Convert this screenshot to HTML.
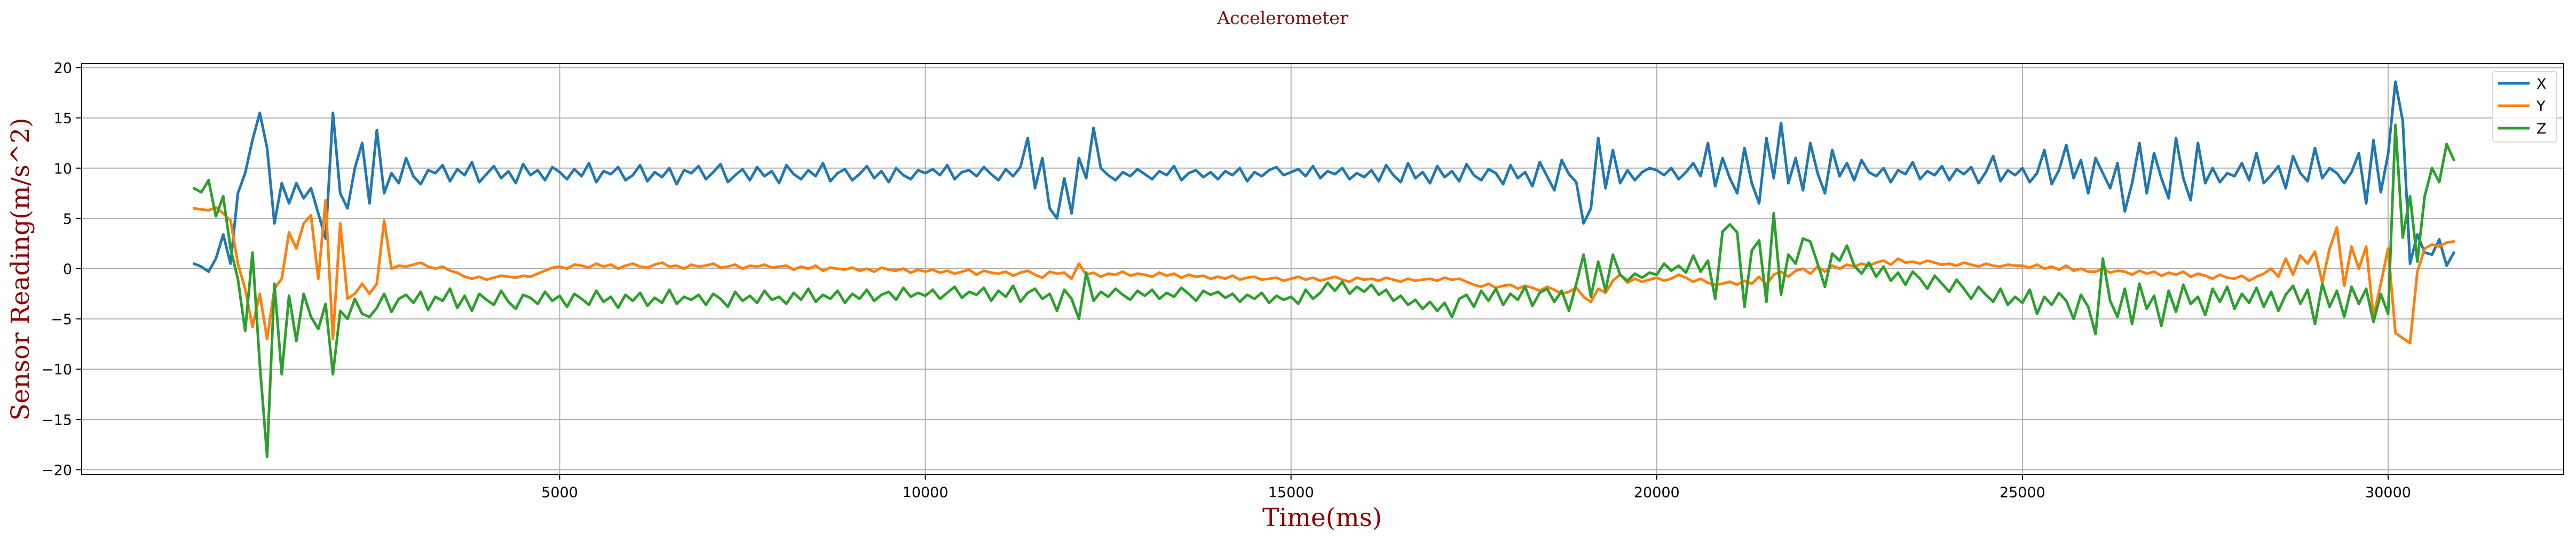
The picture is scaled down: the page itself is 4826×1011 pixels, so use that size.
<!DOCTYPE html>
<html><head><meta charset="utf-8"><style>
html,body{margin:0;padding:0;background:#fff;}
svg{display:block;}
</style></head><body>
<svg id="chart" width="4826" height="1011" viewBox="0 0 4826 1011" xmlns="http://www.w3.org/2000/svg">
<rect width="4826" height="1011" fill="#fff"/>
<text x="2403" y="45" text-anchor="middle" font-family="DejaVu Serif, Liberation Serif, serif" font-size="33" fill="#8b0000">Accelerometer</text>
<g id="grid"></g>
<g id="series"></g>
<rect x="153" y="119" width="4650" height="769" fill="none" stroke="#000" stroke-width="2"/>
<g id="ticks"></g>
<text x="2477" y="985" text-anchor="middle" font-family="DejaVu Serif, Liberation Serif, serif" font-size="47" fill="#8b0000">Time(ms)</text>
<text transform="translate(54,504) rotate(-90)" text-anchor="middle" font-family="DejaVu Serif, Liberation Serif, serif" font-size="47" fill="#8b0000">Sensor Reading(m/s^2)</text>
<g id="legend"></g>
</svg>
<script>
const dt = 100;
const xTicks = [5000, 10000, 15000, 20000, 25000, 30000];
const yTicks = [-20, -15, -10, -5, 0, 5, 10, 15, 20];
const yTickLabels = ["\u221220", "\u221215", "\u221210", "\u22125", "0", "5", "10", "15", "20"];
const seriesNames = ["X", "Y", "Z"];
const seriesX = [
0.5,0.2,-0.3,1.0,3.4,0.5,7.5,9.5,12.8,15.5,
12,4.5,8.5,6.5,8.5,7,8,5.5,3,15.5,
7.5,6,10,12.5,6.5,13.8,7.5,9.5,8.5,11,
9.2,8.4,9.8,9.5,10.3,8.7,9.9,9.3,10.6,8.6,
9.4,10.2,9.0,9.7,8.5,10.4,9.3,9.8,8.8,10.1,
9.6,8.9,9.9,9.2,10.5,8.6,9.7,9.4,10.1,8.8,
9.3,10.3,8.7,9.6,9.1,10.0,8.4,9.8,9.5,10.2,
8.9,9.6,10.4,8.6,9.3,9.9,8.8,10.1,9.2,9.7,
8.5,10.3,9.4,8.9,9.8,9.2,10.5,8.7,9.5,9.9,
8.8,9.4,10.2,9.0,9.7,8.6,10.0,9.3,8.9,9.8,
9.5,9.9,9.3,10.3,8.9,9.6,9.8,9.2,10.1,9.4,
8.8,9.9,9.2,10.1,13,8,11,6,5,9,
5.5,11,9,14,10,9.3,8.8,9.6,9.2,9.9,
9.4,8.9,9.7,9.3,10.2,8.8,9.5,9.8,9.1,9.6,
8.9,9.7,9.3,10.0,8.7,9.6,9.2,9.8,10.1,9.3,
9.6,9.9,9.2,10.2,9.0,9.7,9.4,10.0,8.9,9.5,
9.1,9.8,8.7,10.3,9.3,8.6,10.5,9.0,9.6,8.5,
10.2,9.1,9.7,8.7,10.4,9.3,8.8,9.9,9.5,8.4,
10.3,9.0,9.6,8.2,10.6,9.2,7.8,10.8,9.4,8.6,
4.5,6,13,8,11.8,8.5,9.8,8.8,9.6,10.0,
9.8,9.3,10.0,8.9,9.6,10.5,9.2,12.5,8.2,11.0,
9.0,7.5,12.0,8.5,6.5,13.0,9.0,14.5,8.5,11.0,
7.8,12.5,9.5,7.5,11.8,9.2,10.5,8.8,10.8,9.6,
9.2,10.0,8.6,9.8,9.4,10.6,8.9,9.7,9.3,10.2,
8.8,9.9,9.4,10.1,8.5,9.6,11.2,8.7,9.8,9.3,
10.0,8.6,9.5,11.8,8.4,9.8,12.3,9.0,10.8,7.5,
11.0,9.5,8.0,10.5,5.7,8.5,12.5,7.5,11.5,9.0,
7.0,13.0,9.0,6.8,12.5,8.5,10.0,8.6,9.5,9.2,
10.5,8.8,11.5,8.5,9.3,10.2,8.0,11.2,9.5,8.7,
12,9,10,9.5,8.5,9.6,11.5,6.5,12.8,7.6,
11.4,18.6,14.7,0.5,3.4,1.6,1.4,2.9,0.3,1.6];
const seriesY = [
6.0,5.9,5.8,6.1,5.5,4.8,0.5,-2,-5.8,-2.5,
-7,-2,-1,3.6,2,4.5,5.3,-1,6.8,-7,
4.5,-3,-2.5,-1.5,-2.5,-1.5,4.8,0,0.3,0.2,
0.4,0.6,0.2,0,0.2,-0.2,-0.4,-0.8,-1.0,-0.8,
-1.1,-0.9,-0.7,-0.8,-0.9,-0.7,-0.8,-0.5,-0.2,0.1,
0.2,0.0,0.4,0.3,0.1,0.5,0.2,0.4,0.0,0.3,
0.5,0.2,0.1,0.4,0.6,0.2,0.3,0.0,0.4,0.2,
0.3,0.5,0.1,0.2,0.4,0.0,0.3,0.2,0.4,0.1,
0.2,0.3,-0.1,0.2,0.0,0.3,-0.2,0.1,0.0,-0.1,
0.1,-0.2,0.0,-0.3,0.1,-0.1,-0.2,0.0,-0.4,-0.1,
-0.3,-0.1,-0.4,-0.2,-0.5,-0.3,-0.1,-0.6,-0.2,-0.4,
-0.5,-0.3,-0.7,-0.4,-0.2,-0.6,-0.9,-0.3,-0.5,-0.4,
-1.0,0.5,-0.6,-0.4,-0.8,-0.5,-0.6,-0.3,-0.7,-0.5,
-0.6,-0.8,-0.4,-0.7,-0.5,-0.9,-0.6,-0.8,-0.7,-1.0,
-0.8,-1.0,-0.7,-1.1,-0.9,-0.8,-1.1,-1.0,-0.9,-1.2,
-1.0,-0.8,-1.1,-0.9,-1.2,-1.0,-0.8,-1.1,-1.3,-0.9,
-1.1,-1.0,-1.2,-0.9,-1.1,-1.3,-1.0,-1.2,-1.1,-1.0,
-1.2,-0.9,-1.1,-1.0,-1.3,-1.6,-1.8,-1.5,-1.9,-1.7,
-1.6,-2.0,-1.7,-1.9,-2.2,-1.8,-2.1,-2.5,-2.3,-1.9,
-2.8,-3.3,-2.0,-2.4,-1.2,-0.6,-1.4,-1.0,-1.3,-1.1,
-0.9,-1.2,-1.0,-0.6,-0.9,-1.3,-1.0,-1.4,-1.6,-1.5,
-1.3,-1.6,-1.2,-1.5,-0.8,-1.6,-0.6,-0.3,-0.8,-0.2,
0.0,-0.5,0.2,-0.3,0.3,0.0,0.4,0.2,0.5,0.3,
0.6,0.8,0.4,1.0,0.6,0.7,0.5,0.8,0.6,0.4,
0.5,0.3,0.6,0.4,0.2,0.5,0.3,0.2,0.4,0.3,
0.3,0.1,0.4,0.0,0.2,-0.1,0.3,-0.2,0.0,-0.3,
-0.3,0.0,-0.4,-0.2,-0.3,-0.6,-0.2,-0.5,-0.3,-0.7,
-0.4,-0.6,-0.3,-0.8,-0.5,-0.7,-1.0,-0.6,-0.9,-1.0,
-0.7,-1.2,-0.8,-0.5,0.0,-0.8,1.0,-0.6,1.3,0.5,
1.7,-1.4,2.0,4.1,-1.7,2.2,0.0,2.2,-4.8,-1.5,
2.0,-6.4,-6.9,-7.4,-0.3,2.0,2.4,2.2,2.6,2.7];
const seriesZ = [
8,7.6,8.8,5.2,7.2,2,-1,-6.2,1.6,-9.5,
-18.7,-1.5,-10.5,-2.7,-7.2,-2.5,-4.8,-6,-3.5,-10.5,
-4.2,-5,-3,-4.5,-4.8,-3.9,-2.5,-4.3,-3.0,-2.6,
-3.4,-2.3,-4.1,-2.8,-3.2,-2.0,-3.9,-2.7,-4.2,-2.5,
-3.1,-3.6,-2.2,-3.3,-4.0,-2.6,-2.9,-3.5,-2.3,-3.2,
-2.7,-3.8,-2.5,-3.0,-3.6,-2.2,-3.3,-2.8,-3.9,-2.6,
-3.2,-2.4,-3.7,-2.9,-3.4,-2.1,-3.5,-2.8,-3.1,-2.6,
-3.6,-2.5,-3.0,-3.8,-2.3,-3.2,-2.7,-3.4,-2.2,-3.1,
-2.8,-3.5,-2.4,-3.1,-2.0,-3.3,-2.6,-3.0,-2.2,-3.4,
-2.5,-3.0,-2.1,-3.2,-2.6,-2.3,-3.1,-1.9,-2.8,-2.4,
-2.7,-2.1,-3.0,-2.4,-1.8,-2.9,-2.3,-2.6,-1.9,-3.2,
-2.2,-2.8,-1.7,-3.3,-2.4,-2.0,-3.0,-2.5,-4.2,-2.1,
-3.0,-5.0,-0.4,-3.2,-2.3,-2.8,-2.0,-2.6,-3.1,-2.2,
-2.7,-2.1,-3.0,-2.4,-2.8,-1.9,-2.5,-3.2,-2.2,-2.6,
-2.3,-2.9,-2.5,-3.3,-2.6,-3.0,-2.4,-3.4,-2.7,-3.1,
-2.8,-3.5,-2.1,-3.0,-2.4,-1.4,-2.2,-1.3,-2.5,-1.8,
-2.3,-1.6,-2.6,-2.1,-3.2,-2.7,-3.6,-3.1,-4.0,-3.3,
-4.2,-3.4,-4.8,-3.0,-2.6,-3.8,-2.2,-3.2,-2.0,-3.6,
-2.5,-3.1,-1.8,-3.7,-2.4,-2.0,-3.3,-2.2,-4.2,-1.5,
1.4,-2.8,0.7,-2.2,1.4,-0.6,-1.2,-0.5,-0.9,-0.4,
-0.6,0.5,-0.2,0.3,-0.4,1.3,-0.3,0.8,-3,3.7,
4.4,3.6,-3.8,1.8,2.8,-3.3,5.5,-2.6,1.4,0.5,
3.0,2.7,0.5,-1.8,1.5,0.8,2.3,0.3,-0.5,0.6,
-0.8,0.2,-1.2,-0.4,-1.6,-0.3,-1.0,-2.0,-0.7,-1.5,
-2.3,-1.1,-2.0,-3.0,-1.8,-2.6,-3.3,-2.0,-3.6,-2.8,
-3.4,-2.1,-4.5,-2.8,-3.6,-2.4,-3.2,-5.0,-2.6,-3.8,
-6.5,1.0,-3.2,-4.8,-2.0,-5.5,-1.5,-4.0,-2.7,-5.7,
-2.2,-4.3,-1.6,-3.5,-2.8,-4.6,-2.0,-3.3,-1.8,-4.0,
-2.5,-3.4,-1.9,-3.8,-2.3,-4.2,-2.6,-1.7,-3.5,-2.1,
-5.5,-1.5,-3.8,-2.2,-4.8,-1.8,-3.5,-2.0,-5.3,-2.5,
-4.5,14.3,3.1,7.2,0.7,7.2,10,8.6,12.4,10.8];

const NS = "http://www.w3.org/2000/svg";
const PL = 153, PR = 4803, PT = 119, PB = 888;
function xScale(t){ return 363.4 + t * 0.13702; }
function yScale(v){ return 503 - v * 18.82; }
function mk(tag, attrs){ const e = document.createElementNS(NS, tag); for (const k in attrs) e.setAttribute(k, attrs[k]); return e; }

const grid = document.getElementById('grid');
const ticks = document.getElementById('ticks');
xTicks.forEach((t) => {
  const x = xScale(t);
  const g = mk('line', {x1:x, x2:x, y1:PT, y2:PB, stroke:'#b0b0b0', 'stroke-width':2});
  
  
  grid.appendChild(g);
  const tk = mk('line', {x1:x, x2:x, y1:PB, y2:PB+10, stroke:'#000', 'stroke-width':2});
  
  
  ticks.appendChild(tk);
  const lb = mk('text', {x:x, y:931, 'text-anchor':'middle', 'font-family':'DejaVu Sans, Liberation Sans, sans-serif', 'font-size':27, fill:'#000'});
  lb.textContent = String(t);
  
  
  ticks.appendChild(lb);
});
yTicks.forEach((v, i) => {
  const y = yScale(v);
  const g = mk('line', {x1:PL, x2:PR, y1:y, y2:y, stroke:'#b0b0b0', 'stroke-width':2});
  
  
  grid.appendChild(g);
  const tk = mk('line', {x1:PL-10, x2:PL, y1:y, y2:y, stroke:'#000', 'stroke-width':2});
  
  
  ticks.appendChild(tk);
  const lb = mk('text', {x:PL-18, y:y+10, 'text-anchor':'end', 'font-family':'DejaVu Sans, Liberation Sans, sans-serif', 'font-size':27, fill:'#000'});
  lb.textContent = yTickLabels[i];
  
  
  ticks.appendChild(lb);
});

const colors = ['#1f77b4', '#ff7f0e', '#2ca02c'];
const allSeries = [seriesX, seriesY, seriesZ];
const sg = document.getElementById('series');
allSeries.forEach((vals, si) => {
  const pts = vals.map((v, i) => xScale(i * dt).toFixed(1) + ',' + yScale(v).toFixed(1)).join(' ');
  const pl = mk('polyline', {points:pts, fill:'none', stroke:colors[si], 'stroke-width':5, 'stroke-linejoin':'round', 'stroke-linecap':'round'});
  
  
  sg.appendChild(pl);
});

const lg = document.getElementById('legend');
const box = mk('rect', {x:4670, y:134, width:120, height:132, rx:5, fill:'#fff', 'fill-opacity':0.8, stroke:'#d9d9d9', 'stroke-width':2});


lg.appendChild(box);
seriesNames.forEach((n, i) => {
  const y = 156 + i * 42;
  const ln = mk('line', {x1:4680, x2:4739, y1:y, y2:y, stroke:colors[i], 'stroke-width':5});
  
  
  lg.appendChild(ln);
  const tx = mk('text', {x:4752, y:y+10, 'font-family':'DejaVu Sans, Liberation Sans, sans-serif', 'font-size':27, fill:'#000'});
  tx.textContent = n;
  
  
  lg.appendChild(tx);
});
</script>
</body></html>
